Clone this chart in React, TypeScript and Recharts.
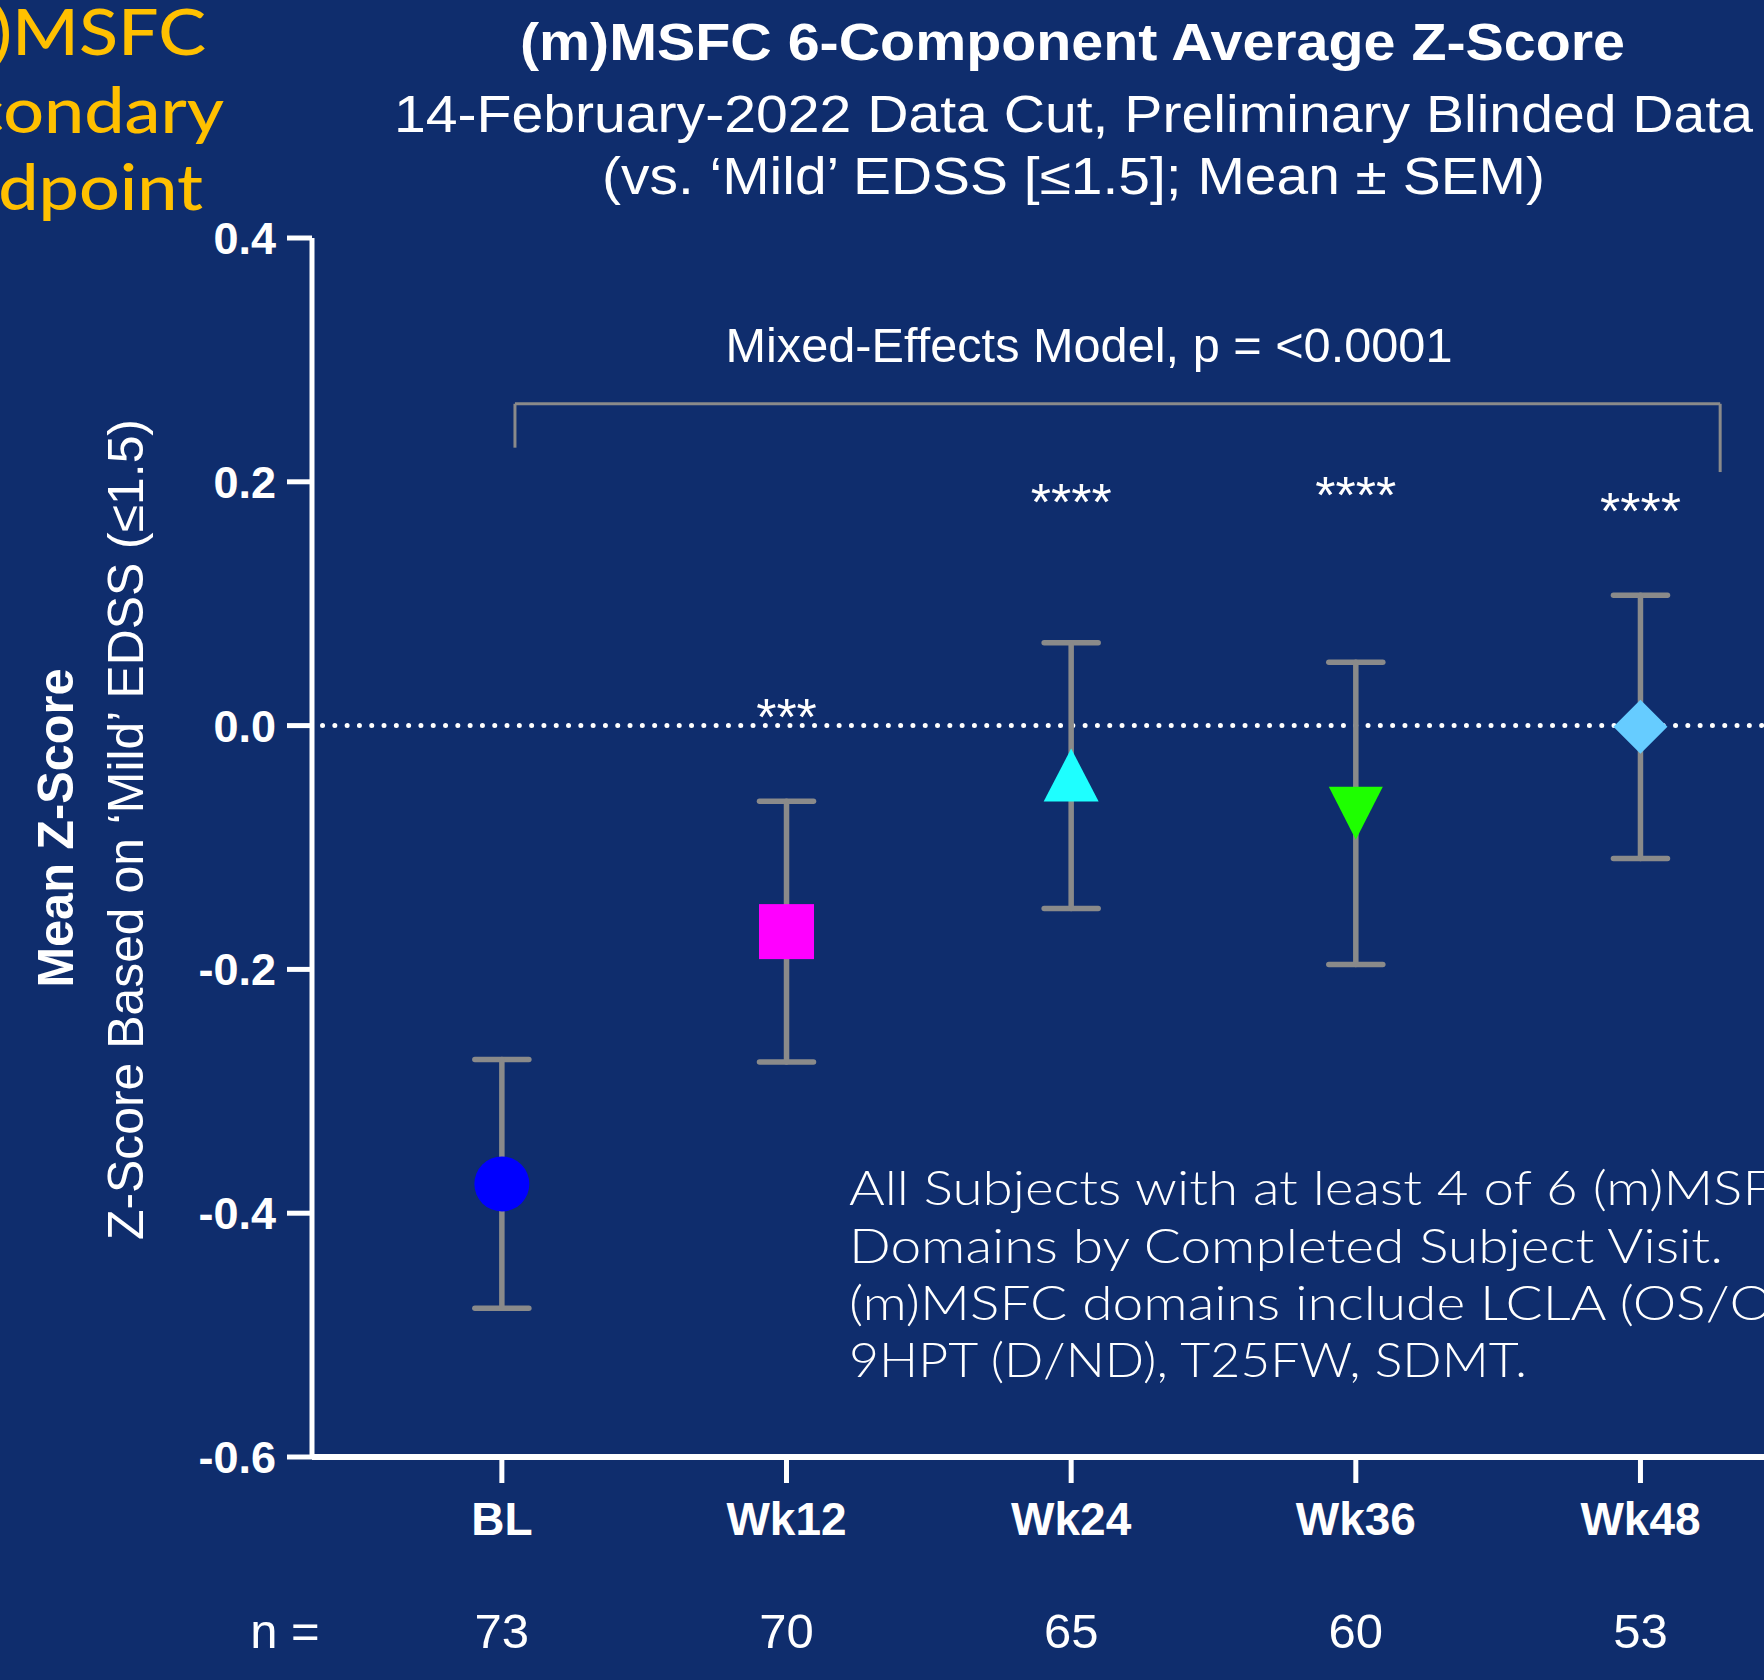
import React from 'react';
import { ComposedChart, Scatter, XAxis, YAxis, ErrorBar, ReferenceLine } from 'recharts';

// ---- data ----
const categories = ['BL', 'Wk12', 'Wk24', 'Wk36', 'Wk48'];
const meanZ = [-0.376, -0.169, -0.041, -0.072, -0.001];
const semZ = [0.102, 0.107, 0.109, 0.124, 0.108];
const nValues = [73, 70, 65, 60, 53];
const starLabels = ['', '***', '****', '****', '****'];
const starY = [0, 0.012, 0.188, 0.194, 0.181];
const yTicks = [-0.6, -0.4, -0.2, 0, 0.2, 0.4];
const xTicks = [0, 1, 2, 3, 4];
const bracketX = [0.046, 4.28];
const bracketTopY = 0.264;
const bracketLeftEndY = 0.228;
const bracketRightEndY = 0.208;

const points = categories.map((c, i) => ({ idx: i, x: i, y: meanZ[i], sem: semZ[i] }));
const starData = categories
  .map((c, i) => ({ idx: i, x: i, y: starY[i], label: starLabels[i] }))
  .filter((d) => d.label !== '');

// ---- styles ----
const BG = '#0F2D6D';
const GREY = '#8A8A8A';
const SANS = '"Liberation Sans", Arial, Helvetica, sans-serif';
const GEO = 'Lato, "Noto Sans", sans-serif';
const markerFill = ['#0000FF', '#FF00FF', '#1EFFFF', '#1EFF00', '#66CCFF'];
const markerKind = ['circle', 'square', 'triangle', 'triangleDown', 'diamond'];
const SIDE_SX = 1.14;

const Marker = (props: any) => {
  const { cx, cy, payload } = props;
  const i = payload.idx;
  const fill = markerFill[i];
  switch (markerKind[i]) {
    case 'circle':
      return <circle cx={cx} cy={cy} r={27.5} fill={fill} />;
    case 'square':
      return <rect x={cx - 27.5} y={cy - 27.5} width={55} height={55} fill={fill} />;
    case 'triangle':
      return <polygon points={`${cx},${cy - 27} ${cx + 27.5},${cy + 26} ${cx - 27.5},${cy + 26}`} fill={fill} />;
    case 'triangleDown':
      return <polygon points={`${cx - 27},${cy - 26.5} ${cx + 27},${cy - 26.5} ${cx},${cy + 26.5}`} fill={fill} />;
    default:
      return <polygon points={`${cx},${cy - 27} ${cx + 27},${cy} ${cx},${cy + 27} ${cx - 27},${cy}`} fill={fill} />;
  }
};

const Star = (props: any) => (
  <text x={props.cx} y={props.cy + 24} textAnchor="middle" fill="#fff" fontSize={52} fontFamily={SANS}>
    {props.payload.label}
  </text>
);

const XTick = (props: any) => {
  const { x, y, payload } = props;
  const i = payload.value;
  return (
    <g>
      <text x={x} y={y + 52} textAnchor="middle" fill="#fff" fontSize={46} fontWeight="bold" fontFamily={SANS}>
        {categories[i]}
      </text>
      <text x={x} y={y + 165} textAnchor="middle" fill="#fff" fontSize={49} fontFamily={SANS}>
        {nValues[i]}
      </text>
    </g>
  );
};

export default function App() {
  return (
    <div style={{ position: 'absolute', left: 0, top: 0, width: 1764, height: 1680, background: BG, overflow: 'hidden' }}>
      <ComposedChart width={1764} height={1680} margin={{ top: 238, right: 0, bottom: 23, left: 162 }}>
        <XAxis
          type="number"
          dataKey="x"
          domain={[-0.667, 4.434]}
          ticks={xTicks}
          interval={0}
          height={200}
          tickSize={26}
          tickMargin={0}
          axisLine={{ stroke: '#fff', strokeWidth: 6 }}
          tickLine={{ stroke: '#fff', strokeWidth: 5 }}
          tick={<XTick />}
          allowDataOverflow
        />
        <YAxis
          type="number"
          domain={[-0.6, 0.4]}
          ticks={yTicks}
          interval={0}
          width={150}
          tickSize={25}
          tickMargin={11}
          tickFormatter={(v: number) => v.toFixed(1)}
          axisLine={{ stroke: '#fff', strokeWidth: 5 }}
          tickLine={{ stroke: '#fff', strokeWidth: 5 }}
          tick={{ fill: '#fff', fontSize: 45, fontWeight: 'bold', fontFamily: SANS }}
          allowDataOverflow
        />
        <ReferenceLine
          segment={[{ x: -0.63, y: 0 }, { x: 4.434, y: 0 }]}
          stroke="#fff"
          strokeWidth={5}
          strokeDasharray="0 12.3"
          strokeLinecap="round"
          ifOverflow="visible"
        />
        <ReferenceLine
          segment={[{ x: bracketX[0], y: bracketTopY }, { x: bracketX[1], y: bracketTopY }]}
          stroke={GREY}
          strokeWidth={3}
          ifOverflow="visible"
        />
        <ReferenceLine
          segment={[{ x: bracketX[0], y: bracketTopY }, { x: bracketX[0], y: bracketLeftEndY }]}
          stroke={GREY}
          strokeWidth={3}
          ifOverflow="visible"
        />
        <ReferenceLine
          segment={[{ x: bracketX[1], y: bracketTopY }, { x: bracketX[1], y: bracketRightEndY }]}
          stroke={GREY}
          strokeWidth={3}
          ifOverflow="visible"
        />
        <Scatter data={points} dataKey="y" shape={<Marker />} isAnimationActive={false}>
          <ErrorBar dataKey="sem" direction="y" width={27} stroke={GREY} strokeWidth={5.5} strokeLinecap="round" />
        </Scatter>
        <Scatter data={starData} dataKey="y" shape={<Star />} isAnimationActive={false} />
      </ComposedChart>
      <svg width={1764} height={1680} style={{ position: 'absolute', left: 0, top: 0, pointerEvents: 'none' }}>
        {/* titles */}
        <text x={1072.5} y={60} textAnchor="middle" fill="#fff" fontSize={51} fontWeight="bold" fontFamily={SANS} textLength={1105} lengthAdjust="spacingAndGlyphs">
          (m)MSFC 6-Component Average Z-Score
        </text>
        <text x={1073.5} y={132} textAnchor="middle" fill="#fff" fontSize={51} fontFamily={SANS} textLength={1359} lengthAdjust="spacingAndGlyphs">
          14-February-2022 Data Cut, Preliminary Blinded Data
        </text>
        <text x={1073.5} y={194} textAnchor="middle" fill="#fff" fontSize={51} fontFamily={SANS} textLength={943} lengthAdjust="spacingAndGlyphs">
          (vs. {'\u2018'}Mild{'\u2019'} EDSS [≤1.5]; Mean ± SEM)
        </text>
        {/* side heading (cropped by the page edge, as in the reference) */}
        <g transform={`scale(${SIDE_SX} 1)`}>
          <text x={206 / SIDE_SX} y={55} textAnchor="end" fill="#FFC000" fontSize={63} fontWeight={500} fontFamily={GEO}>(m)MSFC</text>
          <text x={224 / SIDE_SX} y={133} textAnchor="end" fill="#FFC000" fontSize={63} fontWeight={500} fontFamily={GEO}>Secondary</text>
          <text x={203 / SIDE_SX} y={210} textAnchor="end" fill="#FFC000" fontSize={63} fontWeight={500} fontFamily={GEO}>Endpoint</text>
        </g>
        {/* y axis titles */}
        <text x={73} y={828} transform="rotate(-90 73 828)" textAnchor="middle" fill="#fff" fontSize={50} fontWeight="bold" fontFamily={SANS} textLength={319} lengthAdjust="spacingAndGlyphs">
          Mean Z-Score
        </text>
        <text x={143} y={829.5} transform="rotate(-90 143 829.5)" textAnchor="middle" fill="#fff" fontSize={50} fontFamily={SANS} textLength={821} lengthAdjust="spacingAndGlyphs">
          Z-Score Based on {'\u2018'}Mild{'\u2019'} EDSS (≤1.5)
        </text>
        {/* model annotation */}
        <text x={1089} y={362} textAnchor="middle" fill="#fff" fontSize={49} fontFamily={SANS} textLength={727} lengthAdjust="spacingAndGlyphs">
          Mixed-Effects Model, p = &lt;0.0001
        </text>
        {/* note */}
        <text x={849} y={1205} fill="#fff" fontSize={47} fontWeight={300} fontFamily={GEO} textLength={961} lengthAdjust="spacingAndGlyphs">
          All Subjects with at least 4 of 6 (m)MSFC
        </text>
        <text x={849} y={1263} fill="#fff" fontSize={47} fontWeight={300} fontFamily={GEO} textLength={874} lengthAdjust="spacingAndGlyphs">
          Domains by Completed Subject Visit.
        </text>
        <text x={849} y={1320} fill="#fff" fontSize={47} fontWeight={300} fontFamily={GEO} textLength={991} lengthAdjust="spacingAndGlyphs">
          (m)MSFC domains include LCLA (OS/OD),
        </text>
        <text x={849} y={1377} fill="#fff" fontSize={47} fontWeight={300} fontFamily={GEO} textLength={678} lengthAdjust="spacingAndGlyphs">
          9HPT (D/ND), T25FW, SDMT.
        </text>
        {/* n label */}
        <text x={285} y={1648} textAnchor="middle" fill="#fff" fontSize={49} fontFamily={SANS}>n =</text>
      </svg>
    </div>
  );
}
